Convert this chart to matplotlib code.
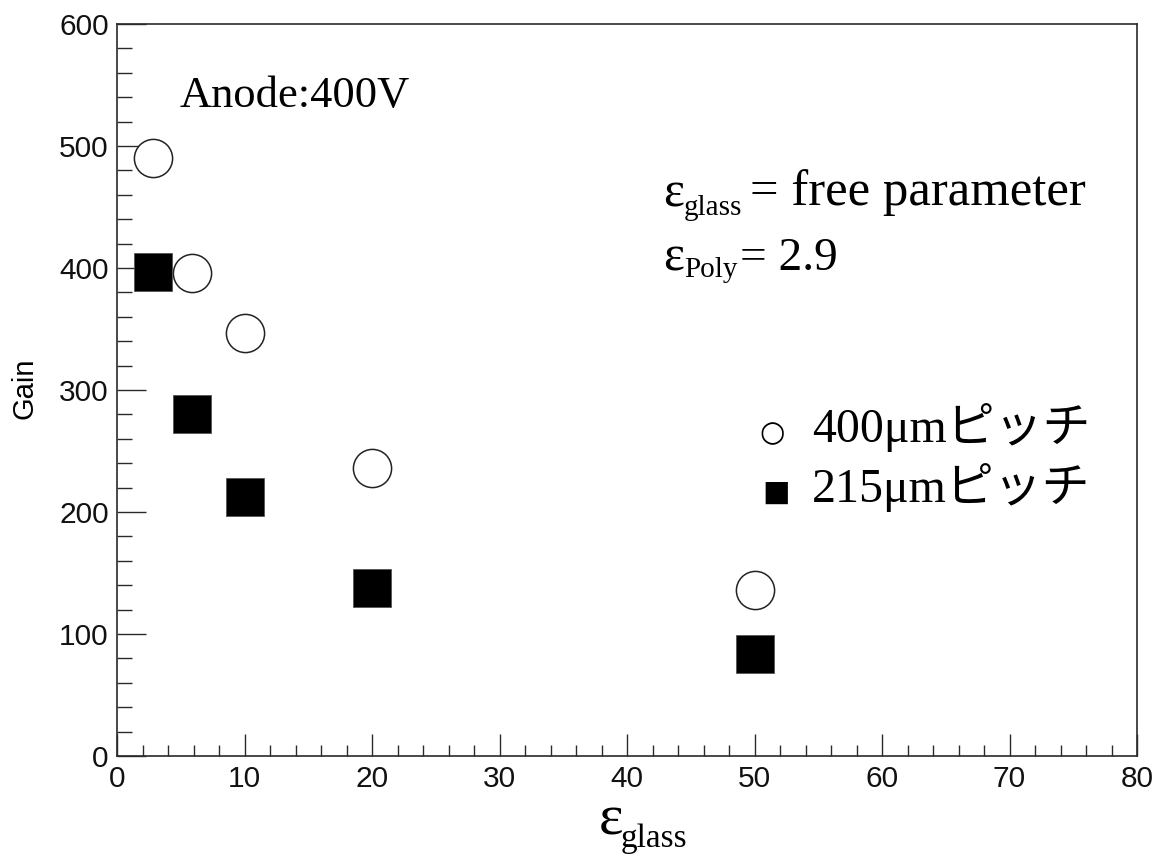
import matplotlib
matplotlib.use("Agg")
import matplotlib.pyplot as plt
from matplotlib.ticker import MultipleLocator

plt.rcParams["mathtext.fontset"] = "custom"
plt.rcParams["mathtext.rm"] = "Liberation Serif"
plt.rcParams["mathtext.it"] = "Liberation Serif:italic"

# permittivity of the glass layer and simulated gain for two strip pitches
eps_glass = [2.8, 5.85, 10, 20, 50]
gain_400um = [490, 396, 347, 236, 136]
gain_215um = [397, 280, 212, 138, 84]

x_ticks = [0, 10, 20, 30, 40, 50, 60, 70, 80]
y_ticks = [0, 100, 200, 300, 400, 500, 600]

W, H = 1154, 856
fig = plt.figure(figsize=(W / 100, H / 100), dpi=100)
ax = fig.add_axes([117 / W, 1 - 756 / H, (1137 - 117) / W, (756 - 24) / H])

SERIF = ["Liberation Serif", "Noto Sans CJK JP", "DejaVu Sans"]
SANS = "Liberation Sans"
AXCOL = "#2a2a2a"
EPS = r"$\mathrm{ε}$"

ax.plot(eps_glass, gain_400um, ls="none", marker="o", ms=27.5,
        mfc="white", mec="#222222", mew=1.1, zorder=3)
ax.plot(eps_glass, gain_215um, ls="none", marker="s", ms=27.5,
        mfc="black", mec="#555555", mew=0.6, zorder=3)

ax.set_xlim(0, 80)
ax.set_ylim(0, 600)
ax.set_xticks(x_ticks)
ax.set_yticks(y_ticks)
ax.xaxis.set_minor_locator(MultipleLocator(2))
ax.yaxis.set_minor_locator(MultipleLocator(20))

for s in ax.spines.values():
    s.set_color(AXCOL)
    s.set_linewidth(1.2)

ax.tick_params(axis="both", which="both", direction="in", top=False, right=False,
               color=AXCOL, width=1.0)
ax.tick_params(axis="y", which="major", length=21, pad=6)
ax.tick_params(axis="y", which="minor", length=11)
ax.tick_params(axis="x", which="major", length=16, pad=6.5)
ax.tick_params(axis="x", which="minor", length=8)
for lab in ax.get_xticklabels() + ax.get_yticklabels():
    lab.set_fontfamily(SANS)
    lab.set_fontsize(21.5)
    lab.set_color("#111111")


def put(x, y, s, size, family=SERIF, **kw):
    """Place text at pixel position (x, baseline y) measured from the top-left."""
    kw.setdefault("ha", "left")
    kw.setdefault("va", "baseline")
    return fig.text(x / W, 1 - y / H, s, fontsize=size, family=family,
                    color="black", **kw)


# y-axis title
put(24, 388, "Gain", 21, family=SANS, rotation=90, ha="center", va="center")

# x-axis title: epsilon with subscript
put(598, 833, EPS, 42)
put(621, 847, "glass", 24)

# annotations
put(180, 107, "Anode:400V", 32)

put(663, 205, EPS, 36)
put(684, 215, "glass", 21)
put(750, 205, "= free parameter", 36.5)

put(663, 270, EPS, 36)
put(684, 277, "Poly", 21)
put(740, 270, "= 2.9", 34)

# legend
put(772, 433, "○", 21, family="DejaVu Sans", ha="center", va="center",
    fontweight="bold")
put(812, 442, "400μmピッチ", 34.5)
put(776, 493, "■", 21, family="DejaVu Sans", ha="center", va="center")
put(812, 502, "215μmピッチ", 34.5)

fig.savefig("out.png", dpi=100)
